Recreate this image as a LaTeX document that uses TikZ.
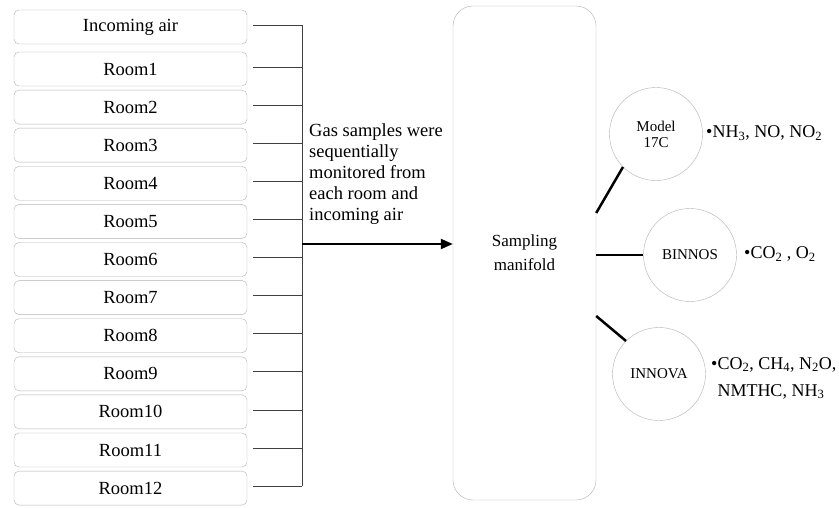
\documentclass[tikz,border=0pt]{standalone}
\usepackage{fontspec}
\setmainfont{Liberation Serif}
\usepackage{tikz}
\usetikzlibrary{arrows.meta}

\tikzset{
  roombox/.style={draw=gray!60, rounded corners=5pt, minimum width=233pt, minimum height=34pt, inner sep=0pt, font=\fontsize{18.5}{20}\selectfont},
  sensor/.style={circle, draw=gray!60, minimum size=93pt, inner sep=0pt, align=center, font=\fontsize{15}{16}\selectfont},
  gaslist/.style={anchor=west, align=left, inner sep=0pt, font=\fontsize{18}{27}\selectfont},
  feed/.style={black!75, line width=0.8pt},
  pipe/.style={line width=2.5pt}
}

\begin{document}
\begin{tikzpicture}[x=1pt, y=-1pt]
  \useasboundingbox (0,0) rectangle (839,508);

  % sample sources
  \node[roombox] (air) at (130.5, 27) {Incoming air};
  \node[roombox] (r1) at (130.5, 69) {Room1};
  \node[roombox] (r2) at (130.5, 107.1) {Room2};
  \node[roombox] (r3) at (130.5, 145.2) {Room3};
  \node[roombox] (r4) at (130.5, 183.3) {Room4};
  \node[roombox] (r5) at (130.5, 221.4) {Room5};
  \node[roombox] (r6) at (130.5, 259.5) {Room6};
  \node[roombox] (r7) at (130.5, 297.6) {Room7};
  \node[roombox] (r8) at (130.5, 335.7) {Room8};
  \node[roombox] (r9) at (130.5, 373.8) {Room9};
  \node[roombox] (r10) at (130.5, 411.9) {Room10};
  \node[roombox] (r11) at (130.5, 450) {Room11};
  \node[roombox] (r12) at (130.5, 488.1) {Room12};

  % collector line
  \coordinate (bus) at (302, 0);
  \foreach \src in {air, r1, r2, r3, r4, r5, r6, r7, r8, r9, r10, r11, r12}
    \draw[feed] ([xshift=6pt, yshift=2pt]\src.east) -- ([yshift=2pt]\src.east -| bus);
  \draw[feed] ([yshift=2pt]air.east -| bus) -- ([yshift=2pt]r12.east -| bus);

  % manifold
  \node[draw=gray!60, rounded corners=20pt, minimum width=143pt, minimum height=494pt, align=center, font=\fontsize{17}{24}\selectfont] (mani) at (524.5, 253) {Sampling\\manifold};
  \draw[line width=2pt, -{Triangle[length=12pt, width=10pt]}] ([yshift=9pt]mani.west -| bus) -- ([yshift=9pt]mani.west);
  \node[anchor=north west, align=left, inner sep=0pt, font=\fontsize{18.5}{21}\selectfont] (note) at (309, 123) {Gas samples were\\sequentially\\monitored from\\each room and\\incoming air};

  % analysers
  \node[sensor] (m17) at (656, 134) {Model\\17C};
  \node[sensor] (bin) at (690, 255) {BINNOS};
  \node[sensor] (inn) at (659, 374) {INNOVA};
  \draw[pipe] ([yshift=40pt]mani.east) -- (m17.225);
  \draw[pipe] (bin.west -| mani.east) -- (bin.west);
  \draw[pipe] ([yshift=-63pt]mani.east) -- (inn.135);

  \node[gaslist] (g17) at (706, 133) {\textbullet NH\textsubscript{3}, NO, NO\textsubscript{2}};
  \node[gaslist] (gbin) at (744, 254) {\textbullet CO\textsubscript{2} , O\textsubscript{2}};
  \node[gaslist] (ginn) at (711, 378) {\textbullet CO\textsubscript{2}, CH\textsubscript{4}, N\textsubscript{2}O,\\\hphantom{\textbullet}NMTHC, NH\textsubscript{3}};
\end{tikzpicture}
\end{document}
